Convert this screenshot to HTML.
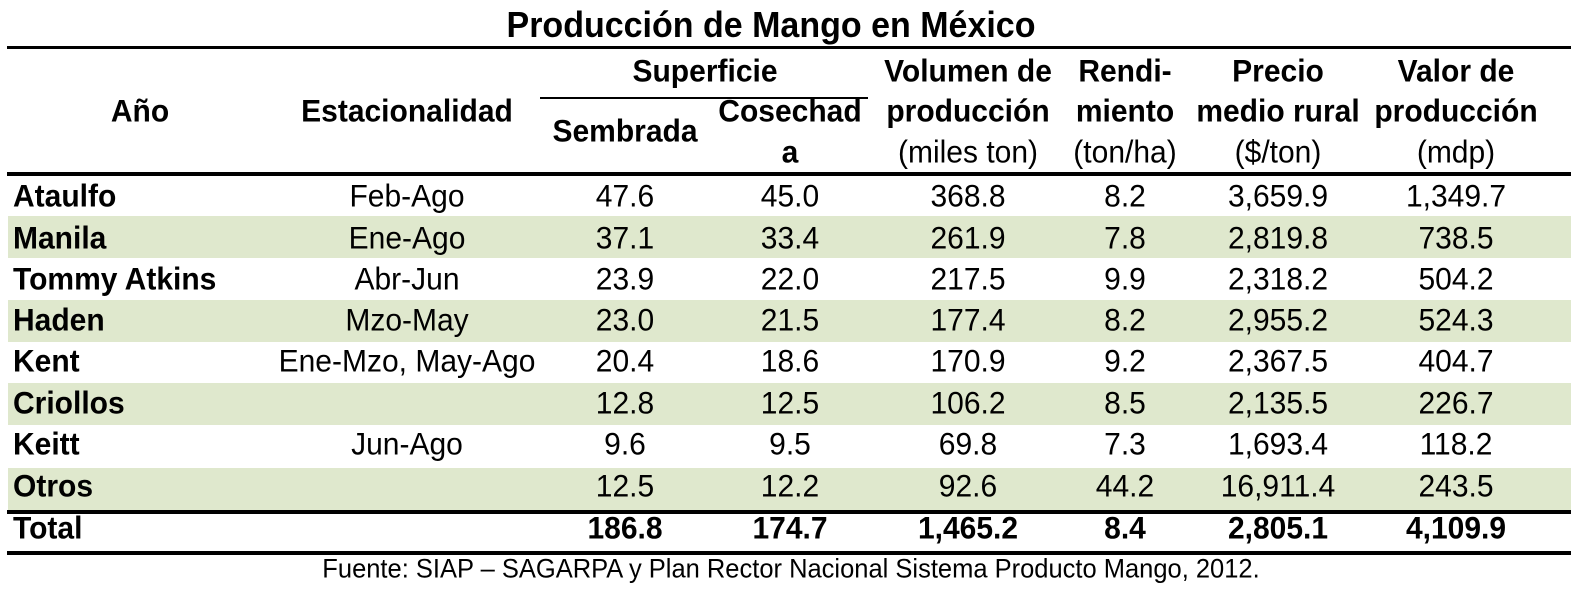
<!DOCTYPE html>
<html><head><meta charset="utf-8"><style>
body{margin:0;width:1588px;height:595px;background:#fff;position:relative;overflow:hidden;font-family:"Liberation Sans",Arial,sans-serif;color:#000}
.t{position:absolute;white-space:nowrap;font-size:30px;line-height:1;transform:translate(-50%,-46%) scaleY(1.05)}
.l{position:absolute;white-space:nowrap;font-size:30px;line-height:1;transform:translate(0,-46%) scaleY(1.05);font-weight:bold}
.b{font-weight:bold}
.g{position:absolute;left:8px;width:1563px;background:#dfe8cd}
.ln{position:absolute;background:#000}
</style></head><body>
<div class="g" style="top:216px;height:42px"></div>
<div class="g" style="top:300px;height:42px"></div>
<div class="g" style="top:383px;height:42px"></div>
<div class="g" style="top:468px;height:42px"></div>
<div class="ln" style="left:7px;width:1564px;top:46px;height:3px"></div>
<div class="ln" style="left:540px;width:328px;top:97px;height:2px"></div>
<div class="ln" style="left:7px;width:1564px;top:172px;height:4px"></div>
<div class="ln" style="left:7px;width:1564px;top:510px;height:4px"></div>
<div class="ln" style="left:7px;width:1564px;top:551px;height:4px"></div>

<div class="t b" style="left:771px;top:24px;font-size:34px">Producción de Mango en México</div>
<div class="t b" style="left:140px;top:111px">Año</div>
<div class="t b" style="left:407px;top:111px">Estacionalidad</div>
<div class="t b" style="left:705px;top:71px">Superficie</div>
<div class="t b" style="left:625px;top:131px">Sembrada</div>
<div class="t b" style="left:790px;top:111px">Cosechad</div>
<div class="t b" style="left:790px;top:152px">a</div>
<div class="t b" style="left:968px;top:71px">Volumen de</div>
<div class="t b" style="left:968px;top:111px">producción</div>
<div class="t" style="left:968px;top:152px">(miles ton)</div>
<div class="t b" style="left:1125px;top:71px">Rendi-</div>
<div class="t b" style="left:1125px;top:111px">miento</div>
<div class="t" style="left:1125px;top:152px">(ton/ha)</div>
<div class="t b" style="left:1278px;top:71px">Precio</div>
<div class="t b" style="left:1278px;top:111px">medio rural</div>
<div class="t" style="left:1278px;top:152px">($/ton)</div>
<div class="t b" style="left:1456px;top:71px">Valor de</div>
<div class="t b" style="left:1456px;top:111px">producción</div>
<div class="t" style="left:1456px;top:152px">(mdp)</div>

<div class="l" style="left:13px;top:196px">Ataulfo</div>
<div class="t" style="left:407px;top:196px">Feb-Ago</div>
<div class="t" style="left:625px;top:196px">47.6</div><div class="t" style="left:790px;top:196px">45.0</div><div class="t" style="left:968px;top:196px">368.8</div><div class="t" style="left:1125px;top:196px">8.2</div><div class="t" style="left:1278px;top:196px">3,659.9</div><div class="t" style="left:1456px;top:196px">1,349.7</div>

<div class="l" style="left:13px;top:238px">Manila</div>
<div class="t" style="left:407px;top:238px">Ene-Ago</div>
<div class="t" style="left:625px;top:238px">37.1</div><div class="t" style="left:790px;top:238px">33.4</div><div class="t" style="left:968px;top:238px">261.9</div><div class="t" style="left:1125px;top:238px">7.8</div><div class="t" style="left:1278px;top:238px">2,819.8</div><div class="t" style="left:1456px;top:238px">738.5</div>

<div class="l" style="left:13px;top:279px">Tommy Atkins</div>
<div class="t" style="left:407px;top:279px">Abr-Jun</div>
<div class="t" style="left:625px;top:279px">23.9</div><div class="t" style="left:790px;top:279px">22.0</div><div class="t" style="left:968px;top:279px">217.5</div><div class="t" style="left:1125px;top:279px">9.9</div><div class="t" style="left:1278px;top:279px">2,318.2</div><div class="t" style="left:1456px;top:279px">504.2</div>

<div class="l" style="left:13px;top:320px">Haden</div>
<div class="t" style="left:407px;top:320px">Mzo-May</div>
<div class="t" style="left:625px;top:320px">23.0</div><div class="t" style="left:790px;top:320px">21.5</div><div class="t" style="left:968px;top:320px">177.4</div><div class="t" style="left:1125px;top:320px">8.2</div><div class="t" style="left:1278px;top:320px">2,955.2</div><div class="t" style="left:1456px;top:320px">524.3</div>

<div class="l" style="left:13px;top:361px">Kent</div>
<div class="t" style="left:407px;top:361px">Ene-Mzo, May-Ago</div>
<div class="t" style="left:625px;top:361px">20.4</div><div class="t" style="left:790px;top:361px">18.6</div><div class="t" style="left:968px;top:361px">170.9</div><div class="t" style="left:1125px;top:361px">9.2</div><div class="t" style="left:1278px;top:361px">2,367.5</div><div class="t" style="left:1456px;top:361px">404.7</div>

<div class="l" style="left:13px;top:403px">Criollos</div>
<div class="t" style="left:625px;top:403px">12.8</div><div class="t" style="left:790px;top:403px">12.5</div><div class="t" style="left:968px;top:403px">106.2</div><div class="t" style="left:1125px;top:403px">8.5</div><div class="t" style="left:1278px;top:403px">2,135.5</div><div class="t" style="left:1456px;top:403px">226.7</div>

<div class="l" style="left:13px;top:444px">Keitt</div>
<div class="t" style="left:407px;top:444px">Jun-Ago</div>
<div class="t" style="left:625px;top:444px">9.6</div><div class="t" style="left:790px;top:444px">9.5</div><div class="t" style="left:968px;top:444px">69.8</div><div class="t" style="left:1125px;top:444px">7.3</div><div class="t" style="left:1278px;top:444px">1,693.4</div><div class="t" style="left:1456px;top:444px">118.2</div>

<div class="l" style="left:13px;top:486px">Otros</div>
<div class="t" style="left:625px;top:486px">12.5</div><div class="t" style="left:790px;top:486px">12.2</div><div class="t" style="left:968px;top:486px">92.6</div><div class="t" style="left:1125px;top:486px">44.2</div><div class="t" style="left:1278px;top:486px">16,911.4</div><div class="t" style="left:1456px;top:486px">243.5</div>

<div class="l" style="left:13px;top:528px">Total</div>
<div class="t b" style="left:625px;top:528px">186.8</div><div class="t b" style="left:790px;top:528px">174.7</div><div class="t b" style="left:968px;top:528px">1,465.2</div><div class="t b" style="left:1125px;top:528px">8.4</div><div class="t b" style="left:1278px;top:528px">2,805.1</div><div class="t b" style="left:1456px;top:528px">4,109.9</div>

<div class="t" style="left:791px;top:569px;font-size:25.5px">Fuente: SIAP – SAGARPA y Plan Rector Nacional Sistema Producto Mango, 2012.</div>
</body></html>
